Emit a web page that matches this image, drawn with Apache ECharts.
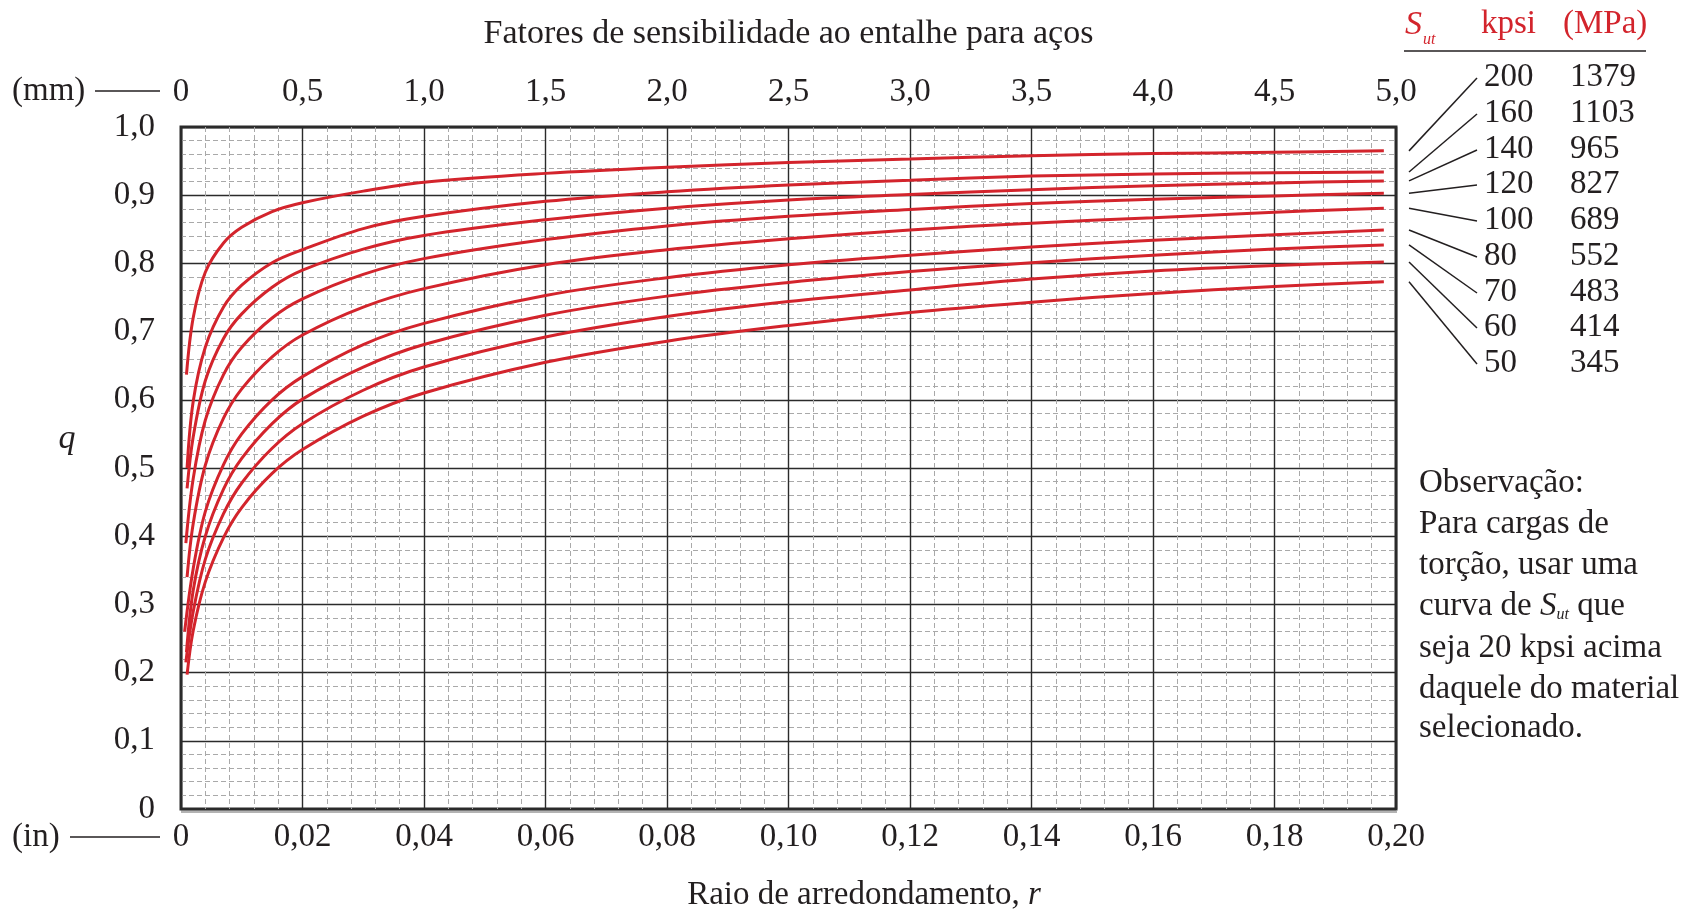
<!DOCTYPE html>
<html><head><meta charset="utf-8">
<script src="https://cdn.jsdelivr.net/npm/echarts@6/dist/echarts.min.js"></script>
<style>html,body{margin:0;padding:0;background:#fff}#c{width:1698px;height:911px}</style>
</head><body><div id="c"></div>
<script>
// ---- data ----
const kpsi = [200, 160, 140, 120, 100, 80, 70, 60, 50];
const mpa  = [1379, 1103, 965, 827, 689, 552, 483, 414, 345];
const rCommon = [0.002, 0.004, 0.007, 0.01, 0.015, 0.02, 0.03, 0.04, 0.06, 0.08, 0.10, 0.12, 0.14, 0.16, 0.18, 0.198];
const rStart  = [0.0009, 0.001, 0.001, 0.0008, 0.001, 0.0006, 0.0009, 0.0008, 0.001];
const qStart  = [0.637, 0.50, 0.47, 0.39, 0.34, 0.26, 0.23, 0.215, 0.197];
const q200 = [0.720, 0.787, 0.830, 0.853, 0.876, 0.889, 0.906, 0.919, 0.932, 0.941, 0.948, 0.953, 0.958, 0.961, 0.963, 0.965];
const q160 = [0.597, 0.677, 0.736, 0.768, 0.801, 0.820, 0.851, 0.869, 0.891, 0.905, 0.915, 0.922, 0.928, 0.931, 0.933, 0.934];
const q140 = [0.545, 0.628, 0.690, 0.726, 0.765, 0.790, 0.821, 0.841, 0.864, 0.881, 0.893, 0.901, 0.908, 0.914, 0.918, 0.921];
const q120 = [0.484, 0.570, 0.637, 0.677, 0.720, 0.748, 0.784, 0.807, 0.835, 0.855, 0.869, 0.879, 0.888, 0.894, 0.899, 0.903];
const q100 = [0.418, 0.504, 0.573, 0.616, 0.663, 0.695, 0.736, 0.763, 0.798, 0.820, 0.836, 0.849, 0.859, 0.867, 0.875, 0.881];
const q80  = [0.352, 0.436, 0.505, 0.550, 0.600, 0.634, 0.681, 0.712, 0.753, 0.779, 0.798, 0.812, 0.824, 0.834, 0.842, 0.849];
const q70  = [0.320, 0.400, 0.469, 0.514, 0.565, 0.601, 0.648, 0.681, 0.724, 0.752, 0.772, 0.788, 0.801, 0.812, 0.821, 0.827];
const q60  = [0.289, 0.366, 0.433, 0.478, 0.529, 0.565, 0.614, 0.648, 0.692, 0.722, 0.744, 0.761, 0.777, 0.789, 0.797, 0.802];
const q50  = [0.261, 0.333, 0.398, 0.442, 0.492, 0.527, 0.576, 0.610, 0.655, 0.686, 0.709, 0.728, 0.743, 0.756, 0.766, 0.773];
const inLabels = ['0', '0,02', '0,04', '0,06', '0,08', '0,10', '0,12', '0,14', '0,16', '0,18', '0,20'];
const mmLabels = ['0', '0,5', '1,0', '1,5', '2,0', '2,5', '3,0', '3,5', '4,0', '4,5', '5,0'];
const qLabels  = ['0', '0,1', '0,2', '0,3', '0,4', '0,5', '0,6', '0,7', '0,8', '0,9', '1,0'];
const title = 'Fatores de sensibilidade ao entalhe para aços';
const xName = 'Raio de arredondamento, {i|r}';
const noteLines = ['Observação:', 'Para cargas de', 'torção, usar uma', 'curva de {i|S}{s|ut} que', 'seja 20 kpsi acima', 'daquele do material', 'selecionado.'];

// ---- chart ----
const FF = '"Liberation Serif", "Times New Roman", serif';
const TXT = '#231f20';
const RED = '#d3242c';
const FS = 33;
const curves = [q200, q160, q140, q120, q100, q80, q70, q60, q50];

const chart = echarts.init(document.getElementById('c'), null, {renderer: 'canvas'});

const series = curves.map((qs, i) => ({
  type: 'line', name: String(kpsi[i]), xAxisIndex: 0, yAxisIndex: 0,
  showSymbol: false, smooth: 0.35, silent: true,
  lineStyle: {color: RED, width: 3},
  data: [[rStart[i], qStart[i]]].concat(rCommon.map((r, j) => [r, qs[j]]))
}));

const GL = 181, GT = 127, GW = 1215, GH = 682;

chart.setOption({
  animation: false,
  backgroundColor: '#fff',
  grid: {left: GL, top: GT, width: GW, height: GH, show: true, borderColor: '#2b2b2b', borderWidth: 3,
         backgroundColor: '#fff', containLabel: false, outerBoundsMode: 'none'},
  xAxis: [{
    type: 'value', position: 'bottom', min: 0, max: 0.2, interval: 0.02,
    axisLine: {show: false}, axisTick: {show: false},
    axisLabel: {margin: 12, color: TXT, fontFamily: FF, fontSize: FS, showMinLabel: true, showMaxLabel: true,
                formatter: v => inLabels[Math.round(v / 0.02)]},
    splitLine: {show: true, lineStyle: {color: '#2b2b2b', width: 1.4}},
    minorTick: {show: false, splitNumber: 5},
    minorSplitLine: {show: true, lineStyle: {color: '#a9a9a9', width: 1, type: [5, 3]}}
  }, {
    type: 'value', position: 'top', min: 0, max: 5, interval: 0.5,
    axisLine: {show: false}, axisTick: {show: false}, splitLine: {show: false},
    axisLabel: {margin: 18, color: TXT, fontFamily: FF, fontSize: FS, showMinLabel: true, showMaxLabel: true,
                formatter: v => mmLabels[Math.round(v / 0.5)]}
  }],
  yAxis: [{
    type: 'value', min: 0, max: 1, interval: 0.1,
    axisLine: {show: false}, axisTick: {show: false},
    axisLabel: {margin: 26, color: TXT, fontFamily: FF, fontSize: FS, showMinLabel: true, showMaxLabel: true,
                formatter: v => qLabels[Math.round(v * 10)]},
    splitLine: {show: true, lineStyle: {color: '#2b2b2b', width: 1.4}},
    minorTick: {show: false, splitNumber: 5},
    minorSplitLine: {show: true, lineStyle: {color: '#a9a9a9', width: 1, type: [5, 3]}}
  }],
  series: series
});

// ---- annotations ----
function txt(id, text, x, y, opts) {
  return Object.assign({type: 'text', id: id, silent: true, z: 100,
    style: Object.assign({text: text, x: x, y: y, fill: TXT, fontFamily: FF, fontSize: FS,
      textAlign: 'left', textVerticalAlign: 'middle'}, (opts || {}))});
}
function line(id, x1, y1, x2, y2, w, c) {
  return {type: 'line', id: id, silent: true, z: 100,
    shape: {x1: x1, y1: y1, x2: x2, y2: y2}, style: {stroke: c || TXT, lineWidth: w || 1.5}};
}

const g = [];
g.push(txt('title', title, GL + GW / 2, 34, {textAlign: 'center', fontSize: 34}));
g.push(txt('xname', xName, 864, 895, {textAlign: 'center', fontSize: 33,
  rich: {i: {fontStyle: 'italic', fontSize: 33, fontFamily: FF, fill: TXT}}}));
g.push(txt('qname', 'q', 67, 439, {textAlign: 'center', fontSize: 34, fontStyle: 'italic'}));
g.push(txt('mm', '(mm)', 12, 91, {}));
g.push(line('mmL', 95, 91, 160, 91, 1.5));
g.push(txt('in', '(in)', 12, 837, {}));
g.push(line('inL', 70, 837, 160, 837, 1.5));
// faint shadow under the bottom frame edge
g.push(line('shadowB', GL, GT + GH + 3, GL + GW + 1, GT + GH + 3, 1.5, '#9a9a9a'));

// legend header
g.push(txt('hS', 'S', 1405, 25, {fill: RED, fontStyle: 'italic', fontSize: 34}));
g.push(txt('hSub', 'ut', 1423, 40, {fill: RED, fontStyle: 'italic', fontSize: 16}));
g.push(txt('hK', 'kpsi', 1481, 24, {fill: RED}));
g.push(txt('hM', '(MPa)', 1563, 24, {fill: RED}));
g.push(line('hLine', 1404, 51, 1646, 51, 1.6));

const rowY = [77, 113, 149, 184, 220, 256, 292, 327, 363];
kpsi.forEach((k, i) => {
  g.push(txt('k' + i, String(k), 1484, rowY[i], {}));
  g.push(txt('m' + i, String(mpa[i]), 1570, rowY[i], {}));
  const last = series[i].data[series[i].data.length - 1];
  const p = chart.convertToPixel({xAxisIndex: 0, yAxisIndex: 0}, last);
  g.push(line('ld' + i, 1409, p[1], 1477, rowY[i] + 1, 1.5));
});

const noteY = [483, 524, 565, 606, 648, 689, 728];
noteLines.forEach((t, i) => {
  g.push(txt('n' + i, t, 1419, noteY[i], {
    rich: {
      i: {fontStyle: 'italic', fontSize: FS, fontFamily: FF, fill: TXT},
      s: {fontStyle: 'italic', fontSize: 16, fontFamily: FF, fill: TXT, verticalAlign: 'bottom', lineHeight: 30}
    }
  }));
});

chart.setOption({graphic: g});
</script>
</body></html>
